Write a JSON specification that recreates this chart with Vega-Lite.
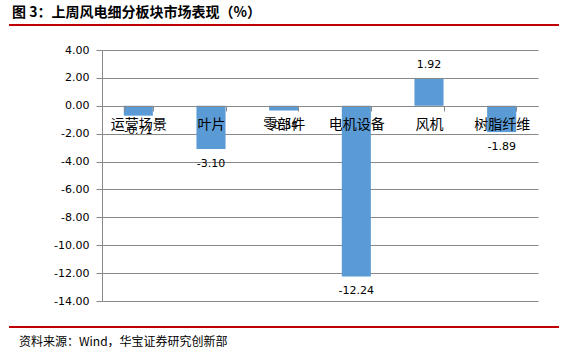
{
  "$schema": "https://vega.github.io/schema/vega-lite/v6.json",
  "background": "white",
  "padding": {"left": 7, "top": 6, "right": 4, "bottom": 4},
  "config": {
    "view": {"stroke": null},
    "font": "Noto Sans CJK SC",
    "locale": {"number": {"decimal": ".", "thousands": ",", "grouping": [3], "currency": ["", ""], "minus": "-"}},
    "axisY": {"title": null, "format": ".2f", "labelFont": "DejaVu Sans", "labelFontSize": 11, "labelColor": "#000000", "grid": true, "gridColor": "#888888", "domainColor": "#888888", "tickColor": "#888888", "tickSize": 6, "labelPadding": 7, "labelOverlap": false}
  },
  "title": {"text": "图 3：上周风电细分板块市场表现（%）", "anchor": "start", "frame": "bounds", "fontSize": 14, "fontWeight": "bold", "color": "#000000", "offset": 4, "dx": 4, "font": "Noto Sans CJK SC"},
  "width": 436,
  "height": 251,
  "data": {"values": [
    {"sector": "运营场景", "value": -0.71},
    {"sector": "叶片", "value": -3.10},
    {"sector": "零部件", "value": -0.34},
    {"sector": "电机设备", "value": -12.24},
    {"sector": "风机", "value": 1.92},
    {"sector": "树脂纤维", "value": -1.89}
  ]},
  "resolve": {"scale": {"x": "independent"}, "axis": {"x": "independent"}},
  "layer": [
    {
      "layer": [
        {"mark": {"type": "bar", "color": "#5B9BD5"}},
        {
          "transform": [{"filter": "datum.value >= 0"}],
          "mark": {"type": "text", "baseline": "bottom", "dy": -9, "font": "DejaVu Sans", "fontSize": 11, "color": "#000000"},
          "encoding": {"text": {"field": "value", "type": "quantitative", "format": ".2f"}}
        },
        {
          "transform": [{"filter": "datum.value < 0"}],
          "mark": {"type": "text", "baseline": "top", "dy": 9, "font": "DejaVu Sans", "fontSize": 11, "color": "#000000"},
          "encoding": {"text": {"field": "value", "type": "quantitative", "format": ".2f"}}
        }
      ],
      "encoding": {
        "x": {
          "field": "sector", "type": "nominal", "sort": null,
          "scale": {"paddingInner": 0.6, "paddingOuter": 0.3},
          "axis": {"title": null, "orient": "bottom", "offset": -195, "labelAngle": 0, "labelFontSize": 14, "labelFont": "Noto Sans CJK SC", "labelColor": "#000000", "domainColor": "#888888", "tickColor": "#888888", "tickSize": 5, "tickBand": "extent", "labelPadding": 6, "zindex": 1}
        },
        "y": {
          "field": "value", "type": "quantitative",
          "scale": {"domain": [-14, 4], "nice": false},
          "axis": {"values": [-14, -12, -10, -8, -6, -4, -2, 0, 2, 4]}
        }
      }
    },
    {
      "data": {"values": [{}]},
      "layer": [
        {
          "mark": {"type": "rule", "color": "#C00000", "strokeWidth": 2},
          "encoding": {"y": {"datum": 5.79, "type": "quantitative", "scale": {"domain": [-14, 4], "nice": false}, "axis": {"values": [-14, -12, -10, -8, -6, -4, -2, 0, 2, 4]}}}
        },
        {
          "mark": {"type": "rule", "color": "#C00000", "strokeWidth": 2},
          "encoding": {"y": {"datum": -15.86, "type": "quantitative", "scale": {"domain": [-14, 4], "nice": false}, "axis": {"values": [-14, -12, -10, -8, -6, -4, -2, 0, 2, 4]}}}
        },
        {
          "mark": {"type": "text", "text": "资料来源：Wind，华宝证券研究创新部", "align": "left", "baseline": "middle", "fontSize": 12, "font": "Noto Sans CJK SC", "color": "#000000"},
          "encoding": {"y": {"datum": -16.95, "type": "quantitative", "scale": {"domain": [-14, 4], "nice": false}, "axis": {"values": [-14, -12, -10, -8, -6, -4, -2, 0, 2, 4]}}, "x": {"datum": 0.0182, "type": "quantitative"}}
        }
      ],
      "encoding": {
        "x": {"datum": 0, "type": "quantitative", "scale": {"domain": [0.169091, 0.961818], "zero": false, "nice": false}, "axis": null},
        "x2": {"datum": 1}
      }
    }
  ]
}
